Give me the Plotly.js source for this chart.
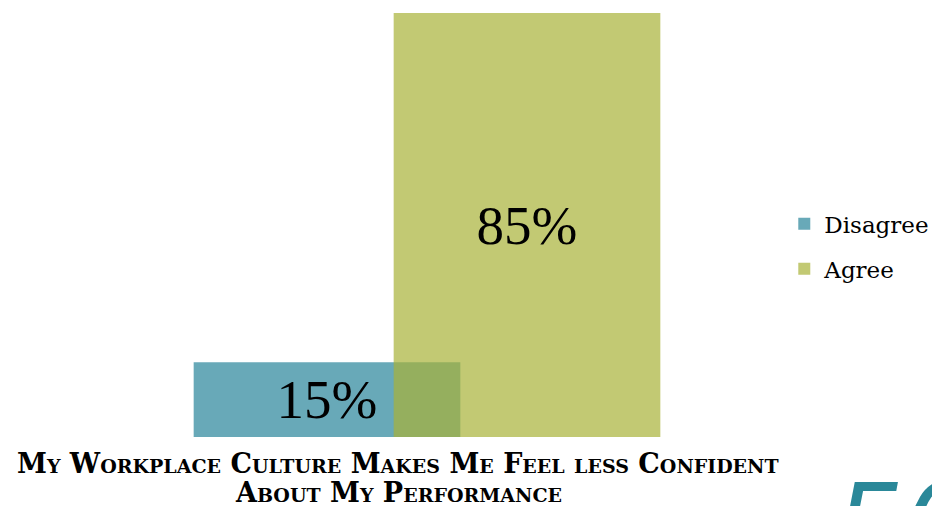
<!DOCTYPE html>
<html>
<head>
<meta charset="utf-8">
<script src="https://cdn.plot.ly/plotly-3.0.1.min.js"></script>
<style>html,body{margin:0;padding:0;background:#fff;overflow:hidden}#chart{width:932px;height:506px}</style>
</head>
<body>
<div id="chart"></div>
<script>
const categories = ["Disagree", "Agree"];
const values = [15, 85];
const labels = ["15%", "85%"];
const colors = ["rgba(104,169,184,1)", "rgba(168,178,55,0.7)"];
const titleLines = ["My Workplace Culture Makes Me Feel less Confident", "About My Performance"];
const pageNumber = "50";

const traces = categories.map((c, i) => ({
  type: "bar",
  name: c,
  legendgroup: c,
  x: [c],
  y: [values[i]],
  text: [labels[i]],
  textposition: "inside",
  insidetextanchor: "middle",
  textfont: {family: "Liberation Serif, serif", size: 55, color: "#000"},
  width: 4 / 3,
  marker: {color: colors[i], line: {width: 0}},
  hoverinfo: "skip"
}));

const titleFont = {family: "DejaVu Serif, serif", size: 27, weight: "bold", variant: "small-caps", color: "#000"};
const titleY = [-0.0625, -0.1302];

const annotations = titleLines.map((t, i) => ({
  text: t, xref: "paper", yref: "paper", x: 0.4517, y: titleY[i],
  xanchor: "center", yanchor: "middle", showarrow: false, font: titleFont
}));
annotations.push({
  text: pageNumber, xref: "paper", yref: "paper", x: 1.175, y: -0.0495, xanchor: "left", yanchor: "top",
  showarrow: false, font: {family: "DejaVu Sans, sans-serif", size: 110, style: "italic", color: "#2A8899"}
});

const layout = {
  width: 932, height: 506,
  margin: {l: 127, r: 205, t: 13, b: 69, pad: 0},
  paper_bgcolor: "#fff", plot_bgcolor: "#fff",
  barmode: "overlay",
  showlegend: true,
  xaxis: {type: "category", categoryarray: categories, range: [-1, 2], showticklabels: false,
          showgrid: false, zeroline: false, showline: false, ticks: "", fixedrange: true},
  yaxis: {range: [0, 85], visible: false, fixedrange: true},
  legend: {xref: "container", yref: "container", x: 0.8415, y: 0.6, xanchor: "left", yanchor: "top",
           font: {family: "DejaVu Serif, serif", size: 23, color: "#000"},
           traceorder: "grouped", tracegroupgap: 12, bgcolor: "rgba(0,0,0,0)"},
  annotations: annotations
};

Plotly.newPlot("chart", traces, layout, {displayModeBar: false, staticPlot: true});
</script>
</body>
</html>
